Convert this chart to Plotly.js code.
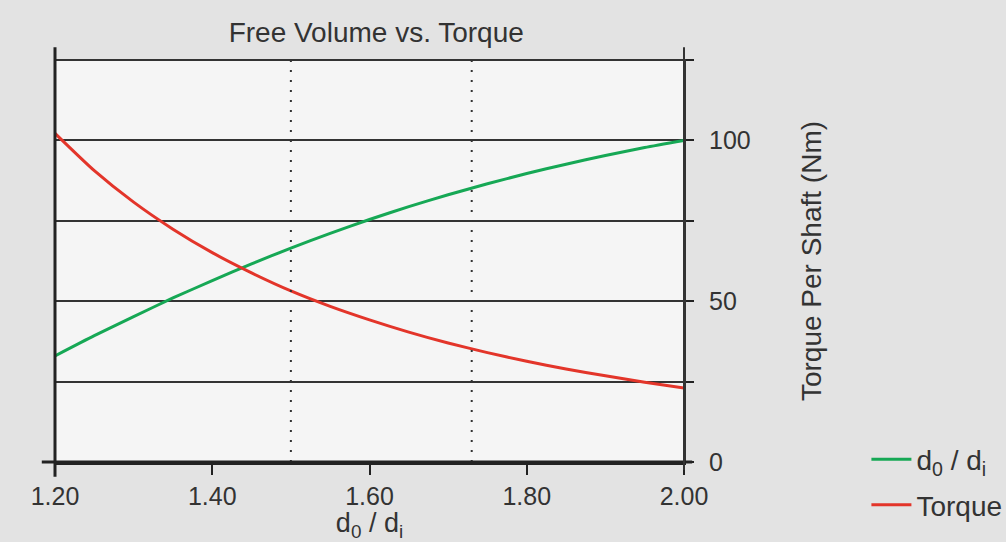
<!DOCTYPE html>
<html>
<head>
<meta charset="utf-8">
<script src="https://cdn.plot.ly/plotly-3.0.1.min.js"></script>
<style>html,body{margin:0;padding:0;background:#e3e3e3;}#chart{width:1006px;height:542px;}</style>
</head>
<body>
<div id="chart"></div>
<script>
// ratio d0/di (x values)
const ratio = [1.20, 1.25, 1.30, 1.35, 1.40, 1.45, 1.50, 1.55, 1.60, 1.65, 1.70, 1.75, 1.80, 1.85, 1.90, 1.95, 2.00];
// free volume series (d0/di curve), read in right-axis units
const freeVolume = [33.0, 39.3, 45.2, 51.0, 56.4, 61.6, 66.5, 71.1, 75.4, 79.4, 83.1, 86.5, 89.7, 92.6, 95.3, 97.8, 100.0];
// torque per shaft (Nm)
const torque = [102.2, 90.6, 80.8, 72.4, 65.1, 58.8, 53.2, 48.4, 44.2, 40.4, 37.0, 34.0, 31.3, 28.9, 26.8, 24.8, 23.0];
// reference vertical markers
const markerX = [1.50, 1.73];
// tick labels
const xTickVals = [1.2, 1.4, 1.6, 1.8, 2.0];
const xTickText = ['1.20', '1.40', '1.60', '1.80', '2.00'];
const yTickVals = [0, 25, 50, 75, 100, 125];
const yTickText = ['0', '', '50', '', '100', ''];

const FONT = 'Liberation Sans, Arial, Helvetica, sans-serif';
const TXT = '#333333';

const traces = [
  {x: ratio, y: freeVolume, type: 'scatter', mode: 'lines', name: 'd<sub>0</sub> / d<sub>i</sub>', legendgroup: 'g1',
   line: {color: '#16a855', width: 3, shape: 'spline', smoothing: 0.6}},
  {x: ratio, y: torque, type: 'scatter', mode: 'lines', name: 'Torque', legendgroup: 'g2',
   line: {color: '#e3352a', width: 3, shape: 'spline', smoothing: 0.6}}
];

const shapes = markerX.map(v => ({type: 'line', xref: 'x', yref: 'paper', x0: v, x1: v, y0: 0, y1: 1.02,
  line: {color: '#333', width: 2, dash: '2px,8px'}, layer: 'above'}));
// top gridline at the range edge
shapes.push({type: 'line', xref: 'paper', yref: 'paper', x0: 0, x1: 1.013, y0: 1, y1: 1, line: {color: '#333', width: 2}, layer: 'below'});
shapes.push({type: 'line', xref: 'paper', yref: 'paper', x0: 0, x1: 0, y0: -0.037, y1: 1.032, line: {color: '#222', width: 3}});
shapes.push({type: 'line', xref: 'paper', yref: 'paper', x0: -0.021, x1: 1.013, y0: 0, y1: 0, line: {color: '#222', width: 3}});
shapes.push({type: 'line', xref: 'paper', yref: 'paper', x0: 1, x1: 1, y0: -0.02, y1: 1.032, line: {color: '#333', width: 2}});

const layout = {
  width: 1006, height: 542,
  paper_bgcolor: '#e3e3e3', plot_bgcolor: '#f5f5f5',
  margin: {l: 55, r: 322, t: 60, b: 80, autoexpand: false},
  font: {family: FONT, color: TXT, size: 25},
  title: {text: 'Free Volume vs. Torque', x: 0.374, xref: 'container', xanchor: 'center', y: 0.941, yref: 'container', yanchor: 'middle',
          font: {size: 28, color: TXT, family: FONT}},
  xaxis: {range: [1.2, 2.0], tickvals: xTickVals, ticktext: xTickText, ticks: 'outside', ticklen: 10, tickwidth: 2, tickcolor: '#222',
          showgrid: false, zeroline: false, showline: true, linewidth: 3, linecolor: '#222', automargin: true,
          tickfont: {size: 25, color: TXT}, ticklabelstandoff: 0,
          title: {text: 'd<sub>0</sub> / d<sub>i</sub>', font: {size: 27, color: TXT}, standoff: 6}},
  yaxis: {range: [0, 125], side: 'right', tickvals: yTickVals, ticktext: yTickText, ticks: 'outside', ticklen: 8, tickwidth: 2, tickcolor: '#222',
          showgrid: true, gridcolor: '#333', gridwidth: 2, zeroline: false, showline: true, linewidth: 2, linecolor: '#333', automargin: false,
          tickfont: {size: 25, color: TXT}, ticklabelstandoff: 10,
          title: {text: 'Torque Per Shaft (Nm)', font: {size: 28, color: TXT}, standoff: 52}},
  legend: {x: 1.29, xanchor: 'left', y: 0.068, yanchor: 'top', bgcolor: 'rgba(0,0,0,0)', font: {size: 28, color: TXT}, borderwidth: 0,
           itemwidth: 40, traceorder: 'grouped', tracegroupgap: 6},
  showlegend: true,
  shapes: shapes
};

Plotly.newPlot('chart', traces, layout, {displayModeBar: false, staticPlot: true});
</script>
</body>
</html>
